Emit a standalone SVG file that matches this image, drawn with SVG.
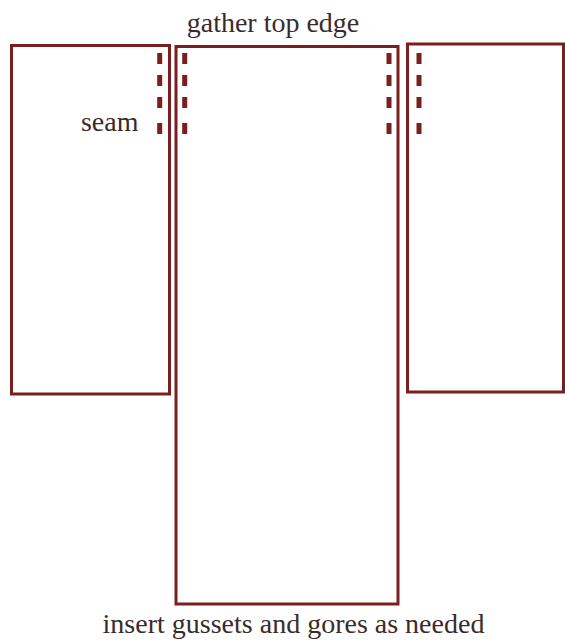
<svg xmlns="http://www.w3.org/2000/svg" width="565" height="640" viewBox="0 0 565 640">
<style>
.panel{fill:#fff;stroke:#7a1e1e;stroke-width:3}
.seam{stroke:#7a1e1e;stroke-width:5;stroke-dasharray:11 11 11 11 11 15 11 100}
.lbl{font-size:28px;fill:#3a2b2b}
</style>
<rect width="565" height="640" fill="#fff"/>
<g id="left-panel">
<rect class="panel" x="11.5" y="45.5" width="158" height="348.5"/>
<line class="seam" x1="159.7" y1="53" x2="159.7" y2="135"/>
</g>
<g id="center-panel">
<rect class="panel" x="176" y="46.5" width="222" height="557.5"/>
<line class="seam" x1="184.7" y1="53" x2="184.7" y2="135"/>
<line class="seam" x1="389" y1="53" x2="389" y2="135"/>
</g>
<g id="right-panel">
<rect class="panel" x="407.5" y="44" width="156" height="348"/>
<line class="seam" x1="419" y1="53" x2="419" y2="135"/>
</g>
<g id="labels" font-family="'Liberation Serif', 'DejaVu Serif', serif">
<text class="lbl" x="273" y="32" text-anchor="middle">gather top edge</text>
<text class="lbl" x="138.5" y="131" text-anchor="end">seam</text>
<text class="lbl" x="293.5" y="633" text-anchor="middle">insert gussets and gores as needed</text>
</g>
</svg>
